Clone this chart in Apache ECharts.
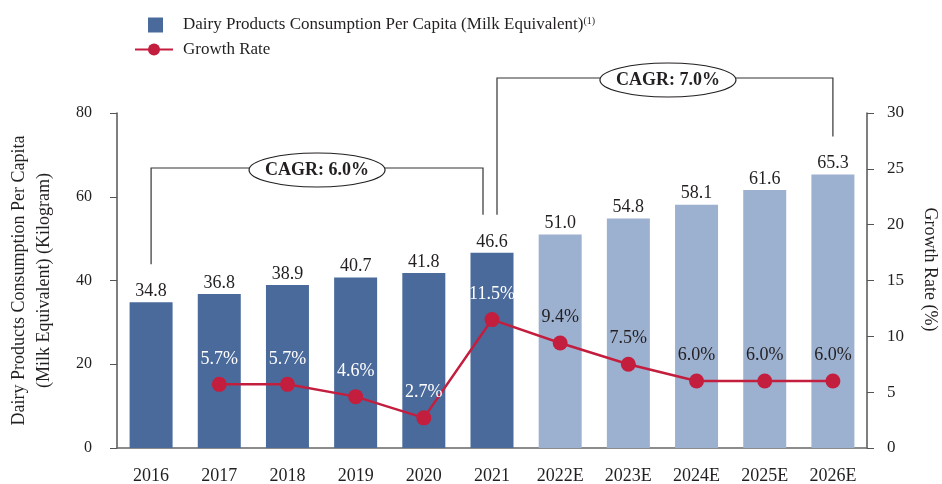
<!DOCTYPE html>
<html>
<head>
<meta charset="utf-8">
<script src="https://cdn.jsdelivr.net/npm/echarts@6/dist/echarts.min.js"></script>
<style>
  html, body { margin: 0; padding: 0; background: #fff; }
  #main { width: 942px; height: 484px; }
</style>
</head>
<body>
<div id="main"></div>
<script>
// 数据
var years = ['2016', '2017', '2018', '2019', '2020', '2021', '2022E', '2023E', '2024E', '2025E', '2026E'];
var consumption = [34.8, 36.8, 38.9, 40.7, 41.8, 46.6, 51.0, 54.8, 58.1, 61.6, 65.3];
var growthRate = [null, 5.7, 5.7, 4.6, 2.7, 11.5, 9.4, 7.5, 6.0, 6.0, 6.0];
var leftTicks = [0, 20, 40, 60, 80];
var rightTicks = [0, 5, 10, 15, 20, 25, 30];
var cagrFrom = ['2016', '2021'];
var cagrTo = ['2021', '2026E'];
var cagrText = ['CAGR: 6.0%', 'CAGR: 7.0%'];

var barName = 'Dairy Products Consumption Per Capita (Milk Equivalent)';
var lineName = 'Growth Rate';

var font = '"Liberation Serif", "Times New Roman", serif';
var ink = '#231F20';
var darkBlue = '#4A6A9B';
var lightBlue = '#9CB0CF';
var red = '#C41E3E';

function isForecast(cat) {
  return cat.indexOf('E') > -1;
}

var barData = consumption.map(function (v, i) {
  return { value: v, itemStyle: { color: isForecast(years[i]) ? lightBlue : darkBlue } };
});
var lineData = growthRate.map(function (v, i) {
  return { value: v, label: { color: isForecast(years[i]) ? ink : '#fff' } };
});

var myChart = echarts.init(document.getElementById('main'));
myChart.setOption({
  animation: false,
  textStyle: { fontFamily: font, color: ink },
  legend: [
    {
      data: [barName],
      left: 143,
      top: 11,
      itemWidth: 15,
      itemHeight: 15,
      icon: 'rect',
      formatter: function (name) { return name + '{sup|(1)}'; },
      textStyle: {
        fontFamily: font, fontSize: 17, color: ink, padding: [0, 0, 0, 15],
        rich: { sup: { fontFamily: font, fontSize: 10, color: ink, verticalAlign: 'top', padding: [0, 0, 8, 0] } }
      }
    },
    {
      data: [lineName],
      left: 129,
      top: 36,
      itemWidth: 38,
      itemHeight: 15,
      textStyle: { fontFamily: font, fontSize: 17, color: ink, padding: [0, 0, 0, 5] }
    }
  ],
  grid: { left: 117, right: 75, top: 113, bottom: 36, outerBoundsMode: 'none' },
  xAxis: {
    type: 'category',
    data: years,
    axisLine: { lineStyle: { color: '#666', width: 1.5 } },
    axisTick: { show: false },
    axisLabel: { fontFamily: font, fontSize: 18, color: ink, margin: 19 }
  },
  yAxis: [
    {
      type: 'value',
      min: leftTicks[0],
      max: leftTicks[leftTicks.length - 1],
      interval: leftTicks[1] - leftTicks[0],
      name: 'Dairy Products Consumption Per Capita\n(Milk Equivalent) (Kilogram)',
      nameLocation: 'middle',
      nameGap: 60,
      nameRotate: 90,
      nameTextStyle: { fontFamily: font, fontSize: 18, color: ink, lineHeight: 25 },
      axisLine: { show: true, lineStyle: { color: '#555', width: 1.5 } },
      axisTick: { show: true, length: 7, lineStyle: { color: '#555' } },
      axisLabel: { fontFamily: font, fontSize: 16, color: ink, margin: 25 },
      splitLine: { show: false }
    },
    {
      type: 'value',
      position: 'right',
      min: rightTicks[0],
      max: rightTicks[rightTicks.length - 1],
      interval: rightTicks[1] - rightTicks[0],
      name: 'Growth Rate (%)',
      nameLocation: 'middle',
      nameGap: 54,
      nameRotate: -90,
      nameTextStyle: { fontFamily: font, fontSize: 18, color: ink, padding: [0, 22, 0, 0] },
      axisLine: { show: true, lineStyle: { color: '#555', width: 1.5 } },
      axisTick: { show: true, length: 7, lineStyle: { color: '#555' } },
      axisLabel: { fontFamily: font, fontSize: 17, color: ink, margin: 20 },
      splitLine: { show: false }
    }
  ],
  series: [
    {
      name: barName,
      type: 'bar',
      data: barData,
      barWidth: 43,
      itemStyle: { color: darkBlue },
      label: {
        show: true,
        position: 'top',
        distance: 2,
        fontFamily: font,
        fontSize: 18,
        color: ink,
        formatter: function (p) { return p.value.toFixed(1); }
      }
    },
    {
      name: lineName,
      type: 'line',
      yAxisIndex: 1,
      data: lineData,
      symbol: 'circle',
      symbolSize: 15,
      lineStyle: { color: red, width: 2.5 },
      itemStyle: { color: red },
      label: {
        show: true,
        position: 'top',
        distance: 9,
        fontFamily: font,
        fontSize: 18,
        formatter: function (p) { return p.value.toFixed(1) + '%'; }
      }
    }
  ]
});

// CAGR 标注
function drawCagr() {
  var graphics = [];
  var levels = [168, 78];
  var legGap = 38;
  for (var k = 0; k < cagrText.length; k++) {
    var i1 = years.indexOf(cagrFrom[k]);
    var i2 = years.indexOf(cagrTo[k]);
    var p1 = myChart.convertToPixel({ xAxisIndex: 0, yAxisIndex: 0 }, [i1, consumption[i1]]);
    var p2 = myChart.convertToPixel({ xAxisIndex: 0, yAxisIndex: 0 }, [i2, consumption[i2]]);
    var x1 = p1[0] + (k == 1 ? 5 : 0);
    var x2 = p2[0] - (k == 0 ? 9 : 0);
    var yTop = levels[k];
    graphics.push({
      type: 'polyline',
      shape: { points: [[x1, p1[1] - legGap], [x1, yTop], [x2, yTop], [x2, p2[1] - legGap]] },
      style: { stroke: '#333', lineWidth: 1.2, fill: null }
    });
    var cx = (x1 + x2) / 2 + (k == 1 ? 3 : 0);
    graphics.push({
      type: 'ellipse',
      shape: { cx: cx, cy: yTop + 2, rx: 68, ry: 17 },
      style: { fill: '#fff', stroke: ink, lineWidth: 1.2 }
    });
    graphics.push({
      type: 'text',
      x: cx,
      y: yTop + 2,
      style: {
        text: cagrText[k],
        fontFamily: font,
        fontSize: 18,
        fontWeight: 'bold',
        fill: ink,
        align: 'center',
        verticalAlign: 'middle'
      }
    });
  }
  myChart.setOption({ graphic: graphics });
}
drawCagr();
</script>
</body>
</html>
